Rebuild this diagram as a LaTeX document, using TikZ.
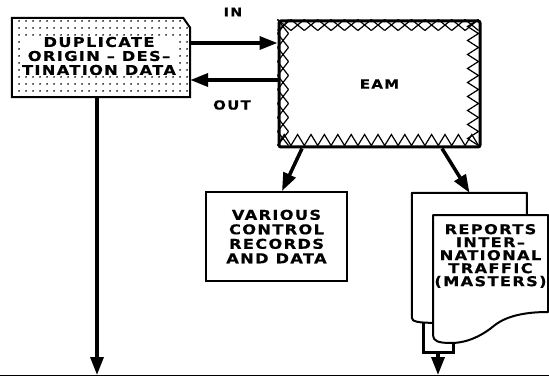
\documentclass[tikz,border=0pt]{standalone}
\usepackage{fontspec}
\newfontfamily\flowfont{DejaVu Sans}[FakeStretch=1.2,LetterSpace=10,BoldFeatures={FakeBold=0.5}]
\usepackage{tikz}
\usetikzlibrary{
	arrows.meta,
	positioning,
	patterns.meta,
	calc
}

\begin{document}
\begin{tikzpicture}[
				x=1pt, y=-1pt,
				boxtext/.style={
					font=\flowfont\bfseries\fontsize{13.5}{14}\selectfont,
					align=center, inner sep=1pt
				},
				blank/.style={
					rectangle, inner sep=0pt
				},
				framed/.style={
					blank, draw, line width=2pt
				},
				paper/.style={
					draw, line width=2pt, fill=white, line join=round
				},
				zigzag/.style={line width=1.2pt},
				arrow/.style={-{Triangle[length=18pt,width=13pt]}, line width=3.5pt, black},
				feed/.style={line width=3pt, line join=miter}
				]
				\useasboundingbox (0,0) rectangle (549,377);
				
				% duplicate data (dotted card)
				\node[blank, minimum width=178pt, minimum height=79pt] (dup) at (101,57.5) {};
				\fill[pattern={Dots[distance=6.5pt,radius=1pt]}]
					(dup.north west) -- ([xshift=-7pt]dup.north east) -- ([yshift=-10pt]dup.north east)
					-- (dup.south east) -- (dup.south west) -- cycle;
				\draw[line width=2pt]
					(dup.north west) -- ([xshift=-7pt]dup.north east) -- ([yshift=-10pt]dup.north east)
					-- (dup.south east) -- (dup.south west) -- cycle;
				\node[boxtext, fill=white] (duptext) at (99,56) {DUPLICATE\\ORIGIN – DES–\\TINATION DATA};
				
				% EAM
				\node[framed, line width=3pt, rounded corners=2pt, minimum width=201pt, minimum height=126pt,
					boxtext, font=\flowfont\bfseries\fontsize{12.5}{13}\selectfont] (eam) at (379.5,84) {EAM};
				\begin{scope}[shift={(eam.north west)}, zigzag]
					% crosses on top and left
					\foreach \i in {0,...,14}
						\draw (\i*13.4,0) -- ++(13.4,11) (\i*13.4,11) -- ++(13.4,-11);
					\foreach \i in {0,...,8}
						\draw (0,\i*14) -- ++(11,14) (11,\i*14) -- ++(-11,14);
					% teeth on right and bottom
					\draw (201,0) \foreach \i in {0,...,8} { -- (190,\i*14+7) -- (201,\i*14+14) };
					\draw (0,126) \foreach \i in {0,...,14} { -- (\i*13.4+6.7,115) -- (\i*13.4+13.4,126) };
				\end{scope}
				
				% control records
				\node[framed, minimum width=141pt, minimum height=89pt, boxtext,
					font=\flowfont\bfseries\fontsize{13.5}{14.5}\selectfont] (various) at (276.5,236.5)
					{VARIOUS\\CONTROL\\RECORDS\\AND DATA};
				
				% reports (two sheets)
				\node[blank, minimum width=115pt, minimum height=127pt] (backdoc) at (469.5,256.5) {};
				\begin{scope}[shift={(backdoc.north west)}]
					\draw[paper] (0,125) -- (0,0) -- (115,0) -- (115,110) -- (21,130)
						.. controls (8,130) and (0,129) .. cycle;
				\end{scope}
				\coordinate (front) at (433,215);
				\begin{scope}[shift={(front)}]
					\draw[paper] (0,120) -- (0,0) -- (115,0) -- (115,97)
						.. controls (95,97) and (75,100) .. (62,110)
						.. controls (50,120) and (35,128) .. (18,128)
						.. controls (5,128) and (0,126) .. cycle;
				\end{scope}
				\node[boxtext, font=\flowfont\bfseries\fontsize{13.5}{13}\selectfont] (reports) at (490.5,256)
					{REPORTS\\INTER–\\NATIONAL\\TRAFFIC\\(MASTERS)};
				
				% labels
				\node[boxtext, font=\flowfont\bfseries\fontsize{12}{13}\selectfont] (inlabel) at (233,12) {IN};
				\node[boxtext, font=\flowfont\bfseries\fontsize{12.5}{13}\selectfont] (outlabel) at (232,105) {OUT};
				
				% feet of the report sheets
				\coordinate (backfoot) at (423,322);
				\coordinate (frontfoot) at (453,343);
				\coordinate (join) at (438,352);
				\coordinate (repend) at (438,375);
				\coordinate (dupend) at (97,375);
				
				% arrows
				\draw[arrow] ([yshift=14.5pt]dup.east) -- ([yshift=14.5pt]dup.east -| eam.west);
				\draw[arrow] ([yshift=-22.5pt]dup.east -| eam.west) -- ([yshift=-22.5pt]dup.east);
				\draw[arrow] ([xshift=-77.5pt]eam.south) -- ([xshift=5.5pt]various.north);
				\draw[arrow] ([xshift=62.5pt]eam.south) -- (backdoc.north);
				\draw[arrow] ([xshift=-4pt]dup.south) -- (dupend);
				\draw[feed] (backfoot) |- (join) -| (frontfoot);
				\draw[arrow] (join) -- (repend);
				
				% bottom edge
				\draw[line width=1pt] (0,375.5) -- (549,375.5);
			\end{tikzpicture}
\end{document}
